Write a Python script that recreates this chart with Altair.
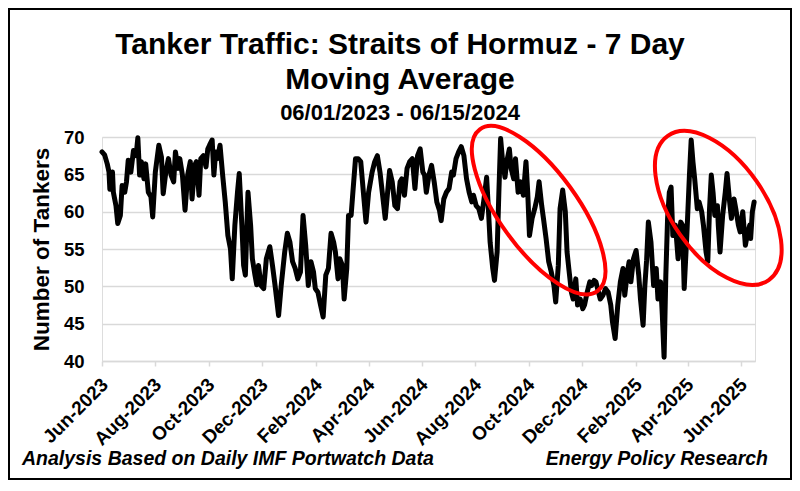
import altair as alt
import pandas as pd

# ---------------- text ----------------
TITLE_LINES = ["Tanker Traffic: Straits of Hormuz - 7 Day", "Moving Average"]
SUBTITLE = "06/01/2023 - 06/15/2024"
Y_TITLE = "Number of Tankers"
FOOTNOTE_LEFT = "Analysis Based on Daily IMF Portwatch Data"
FOOTNOTE_RIGHT = "Energy Policy Research"

# ---------------- data ----------------
START_DATE = "2023-06-01"
END_DATE = "2025-06-17"

# days since 2023-06-01
day_offsets = [
    0, 3, 6, 8, 9, 12, 13, 16, 18, 21, 23, 26, 28, 30, 33, 36, 39, 41, 43, 45,
    48, 50, 53, 56, 58, 61, 65, 68, 70, 73, 76, 79, 82, 84, 87, 89, 92, 95, 98, 101,
    103, 106, 108, 111, 113, 116, 119, 121, 123, 126, 128, 130, 132, 135, 138, 141, 144, 147, 149, 152,
    155, 157, 160, 162, 164, 167, 170, 172, 175, 177, 179, 182, 185, 188, 192, 195, 198, 202, 205, 209,
    212, 215, 218, 221, 224, 227, 230, 233, 236, 239, 242, 244, 247, 250, 253, 256, 259, 262, 265, 267,
    270, 272, 275, 277, 280, 282, 285, 287, 290, 293, 296, 299, 302, 305, 309, 312, 315, 318, 321, 324,
    326, 329, 332, 335, 338, 341, 343, 346, 349, 352, 355, 358, 361, 364, 367, 369, 371, 374, 377, 380,
    383, 386, 388, 391, 394, 397, 400, 402, 405, 408, 411, 414, 417, 420, 423, 425, 428, 431, 434, 437,
    440, 442, 444, 447, 449, 452, 454, 456, 458, 461, 463, 466, 468, 471, 473, 476, 479, 482, 485, 487,
    489, 492, 495, 498, 500, 503, 505, 508, 511, 514, 517, 519, 522, 524, 527, 530, 532, 534, 537, 539,
    542, 544, 547, 550, 552, 555, 558, 560, 563, 565, 568, 570, 573, 576, 579, 582, 584, 587, 590, 593,
    596, 598, 601, 603, 605, 608, 611, 614, 616, 619, 621, 623, 625, 628, 631, 634, 636, 639, 641, 643,
    645, 647, 649, 651, 653, 656, 659, 662, 664, 666, 669, 672, 674, 676, 678, 681, 683, 686, 688, 691,
    693, 695, 697, 699, 701, 704, 705, 707, 710, 713, 715, 718, 720, 723, 725, 728, 730, 733, 736, 738,
    741, 742, 744, 746,
]

tankers_7d = [
    68.0, 67.6, 66.4, 65.3, 63.0, 65.3, 62.6, 60.8, 58.4, 59.5, 63.5, 62.6, 64.0, 66.9, 65.3, 68.2, 67.5, 69.9, 64.9, 66.7,
    64.4, 66.4, 62.6, 62.0, 59.3, 65.3, 68.9, 67.3, 62.4, 65.3, 67.1, 64.9, 64.0, 68.0, 65.8, 67.1, 64.9, 60.2, 64.9, 66.7,
    61.7, 66.2, 66.7, 62.2, 67.1, 67.5, 66.0, 68.4, 68.9, 69.6, 64.9, 68.0, 67.1, 68.9, 64.9, 61.3, 56.8, 55.0, 51.0, 58.2,
    62.6, 65.1, 58.2, 52.8, 51.5, 62.6, 58.2, 53.7, 51.5, 50.2, 52.8, 50.1, 49.7, 53.7, 55.3, 52.8, 50.1, 46.1, 50.1, 54.6,
    57.1, 55.9, 53.3, 52.4, 51.0, 51.9, 59.5, 55.5, 50.1, 53.3, 51.9, 49.7, 49.2, 47.5, 45.9, 51.5, 52.4, 57.1, 55.9, 54.6,
    51.0, 53.7, 52.8, 48.3, 52.4, 59.5, 59.5, 62.6, 67.1, 67.1, 66.7, 62.6, 58.6, 62.6, 65.3, 66.7, 67.5, 65.3, 62.2, 59.1,
    61.7, 65.5, 64.0, 60.8, 60.4, 64.0, 64.4, 62.2, 65.8, 66.7, 67.1, 63.1, 67.5, 68.4, 65.3, 64.9, 62.6, 64.9, 66.2, 64.0,
    61.3, 60.2, 58.8, 61.7, 62.6, 63.1, 65.3, 64.9, 67.1, 68.0, 68.7, 67.5, 64.4, 62.6, 61.3, 62.2, 60.8, 60.4, 59.1, 61.7,
    64.6, 60.4, 55.9, 52.4, 50.8, 54.6, 62.6, 69.8, 67.1, 64.6, 66.7, 68.4, 65.8, 64.4, 67.1, 62.6, 64.0, 62.2, 66.7, 62.6,
    56.8, 59.1, 60.4, 62.0, 64.0, 60.8, 59.1, 56.4, 53.3, 51.9, 50.1, 47.9, 52.8, 60.4, 62.9, 60.0, 54.6, 52.4, 49.2, 48.3,
    51.0, 47.5, 48.3, 47.0, 47.5, 49.2, 50.6, 50.1, 50.8, 50.6, 49.2, 48.3, 48.8, 49.7, 49.2, 47.5, 45.2, 43.0, 47.5, 50.6,
    52.4, 48.8, 51.9, 53.3, 50.6, 53.7, 54.8, 51.5, 48.3, 44.8, 50.1, 53.5, 58.6, 55.9, 50.1, 52.4, 48.3, 50.6, 46.1, 40.5,
    51.5, 59.1, 62.6, 63.3, 56.8, 58.2, 53.7, 58.6, 58.2, 49.7, 56.8, 64.9, 69.6, 66.7, 64.4, 60.4, 61.3, 60.0, 58.2, 54.6,
    53.3, 60.4, 64.9, 62.6, 59.5, 60.8, 58.2, 54.6, 59.5, 62.6, 65.1, 61.3, 59.1, 61.7, 60.4, 58.2, 57.3, 60.0, 55.5, 56.8,
    58.2, 56.4, 60.0, 61.3,
]

tick_months = [
    "2023-06-01", "2023-08-01", "2023-10-01", "2023-12-01", "2024-02-01", "2024-04-01", "2024-06-01",
    "2024-08-01", "2024-10-01", "2024-12-01", "2025-02-01", "2025-04-01", "2025-06-01",
]
y_ticks = [40, 45, 50, 55, 60, 65, 70]

# highlighted periods (red ellipses): centre (days since start, tankers)
highlight_days = [499.5, 705.0]
highlight_values = [60.2, 60.5]

FONT = "Liberation Sans"

# ---------------- build tables ----------------
start = pd.Timestamp(START_DATE)
df = pd.DataFrame({
    "date": start + pd.to_timedelta(day_offsets, unit="D"),
    "tankers": tankers_7d,
})
hl = pd.DataFrame({
    "date": start + pd.to_timedelta(highlight_days, unit="D"),
    "tankers": highlight_values,
})


def dt(s):
    t = pd.Timestamp(s)
    return alt.DateTime(year=t.year, month=t.month, date=t.day)


x_scale = alt.Scale(domain=[dt(START_DATE), dt(END_DATE)], nice=False)
y_scale = alt.Scale(domain=[40, 70], nice=False, zero=False)

x_axis = alt.Axis(
    values=[dt(m) for m in tick_months], format="%b-%Y", labelAngle=-45,
    labelFont=FONT, labelFontSize=19, labelFontWeight="bold", labelColor="black",
    labelOverlap=False, labelFlush=False, labelBound=False, labelPadding=9,
    labelOffset=-4,
    grid=False, domainColor="#d9d9d9", domainWidth=1.5,
    tickColor="#d9d9d9", tickWidth=1.5, tickSize=5, title=None,
)
y_axis = alt.Axis(
    values=y_ticks, tickCount=7, grid=True, gridColor="#d9d9d9", gridWidth=1.5,
    domain=False, ticks=False, labelPadding=18, labelOverlap=False,
    labelFont=FONT, labelFontSize=18.5, labelFontWeight="bold", labelColor="black",
    title=Y_TITLE, titleFont=FONT, titleFontSize=22.5, titleFontWeight="bold",
    titleColor="black", titlePadding=10,
)

X_ENC = alt.X("date:T", scale=x_scale, axis=x_axis)
Y_ENC = alt.Y("tankers:Q", scale=y_scale, axis=y_axis)

line = alt.Chart(df).mark_line(
    color="black", strokeWidth=5, strokeJoin="round", strokeCap="round"
).encode(x=X_ENC, y=Y_ENC)


def ellipse_path(r):
    k = 0.5523
    return (
        f"M1,0 C1,{k*r:.4f} {k:.4f},{r:.4f} 0,{r:.4f} "
        f"C{-k:.4f},{r:.4f} -1,{k*r:.4f} -1,0 "
        f"C-1,{-k*r:.4f} {-k:.4f},{-r:.4f} 0,{-r:.4f} "
        f"C{k:.4f},{-r:.4f} 1,{-k*r:.4f} 1,0 Z"
    )


ell1 = alt.Chart(hl.iloc[[0]]).mark_point(
    shape=ellipse_path(0.39), size=200 * 200, angle=54, filled=False,
    color="#ff0000", strokeWidth=4, opacity=1,
).encode(x=X_ENC, y=Y_ENC)
ell2 = alt.Chart(hl.iloc[[1]]).mark_point(
    shape=ellipse_path(0.53), size=176 * 176, angle=55, filled=False,
    color="#ff0000", strokeWidth=4, opacity=1,
).encode(x=X_ENC, y=Y_ENC)

frame = alt.Chart(pd.DataFrame({"k": [0]})).mark_rect(
    fillOpacity=0, stroke="black", strokeWidth=2
).encode(x=alt.value(-93), x2=alt.value(689), y=alt.value(-128), y2=alt.value(342))

note_left = alt.Chart(pd.DataFrame({"note": [FOOTNOTE_LEFT]})).mark_text(
    align="left", baseline="alphabetic", font=FONT, fontSize=19.5,
    fontWeight="bold", fontStyle="italic", color="black",
).encode(x=alt.value(-80), y=alt.value(328), text="note:N")
note_right = alt.Chart(pd.DataFrame({"note": [FOOTNOTE_RIGHT]})).mark_text(
    align="right", baseline="alphabetic", font=FONT, fontSize=19.5,
    fontWeight="bold", fontStyle="italic", color="black",
).encode(x=alt.value(666), y=alt.value(328), text="note:N")

chart = alt.layer(line, ell1, ell2, frame, note_left, note_right).properties(
    width=653,
    height=224,
    autosize=alt.AutoSizeParams(type="none"),
    padding={"left": 94, "top": 129, "right": 37, "bottom": 120},
    title=alt.TitleParams(
        text=TITLE_LINES, subtitle=SUBTITLE,
        font=FONT, fontSize=30, fontWeight="bold", color="black", lineHeight=35,
        subtitleFont=FONT, subtitleFontSize=22, subtitleFontWeight="bold",
        subtitleColor="black", subtitlePadding=8,
        anchor="middle", frame="bounds", offset=-116,
    ),
).configure_view(strokeWidth=0).configure(background="white")

chart.save("out.html", embed_options={"renderer": "svg", "actions": False})
